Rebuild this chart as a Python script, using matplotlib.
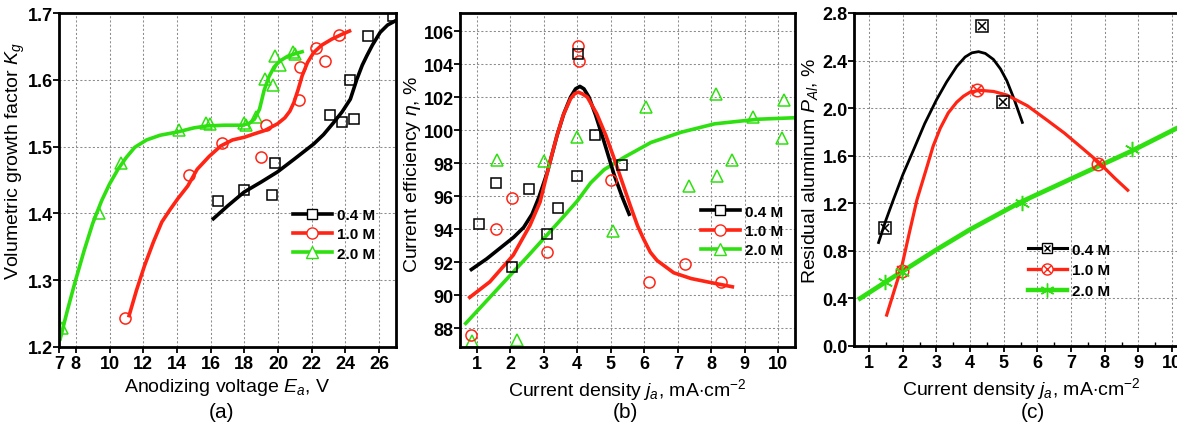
import matplotlib
matplotlib.use("Agg")
import matplotlib.pyplot as plt
from matplotlib.lines import Line2D
from matplotlib.ticker import MultipleLocator, FormatStrFormatter

plt.rcParams['font.family'] = ['Liberation Sans', 'DejaVu Sans']
plt.rcParams['mathtext.fontset'] = 'custom'
plt.rcParams['mathtext.rm'] = 'Liberation Sans'
plt.rcParams['mathtext.it'] = 'Liberation Sans:italic'
plt.rcParams['mathtext.bf'] = 'Liberation Sans:bold'

BLACK = '#000000'
RED = '#ff2414'
GREEN = '#2ee010'

# ---------- panel (a): growth factor vs voltage ----------
a_green_x = [7.2, 9.37, 10.67, 14.15, 15.73, 15.96, 17.99, 18.1, 18.72, 19.23, 19.7, 19.82, 20.11, 20.9, 21.0]
a_green_y = [1.229, 1.40, 1.476, 1.525, 1.536, 1.534, 1.535, 1.532, 1.544, 1.601, 1.592, 1.636, 1.622, 1.641, 1.639]
a_red_x = [10.94, 14.74, 16.65, 19.01, 19.31, 21.27, 21.33, 22.28, 22.81, 23.6]
a_red_y = [1.244, 1.457, 1.505, 1.485, 1.532, 1.570, 1.619, 1.647, 1.628, 1.667]
a_black_x = [16.45, 17.95, 19.62, 19.82, 23.1, 23.79, 24.48, 24.29, 25.33, 26.84]
a_black_y = [1.419, 1.435, 1.428, 1.475, 1.547, 1.537, 1.542, 1.599, 1.666, 1.696]

# fitted curves
a_green_fit_x = [7.07, 7.5, 7.95, 8.5, 9.0, 9.53, 10.0, 10.5, 11.0, 11.5, 12.2, 13.0, 14.05, 15.0, 15.8, 16.8,
                 17.9, 18.3, 18.6, 18.9, 19.17, 19.45, 19.76, 20.1, 20.55, 21.0, 21.43]
a_green_fit_y = [1.212, 1.255, 1.297, 1.345, 1.385, 1.419, 1.444, 1.466, 1.484, 1.499, 1.510, 1.517, 1.522,
                 1.528, 1.531, 1.532, 1.532, 1.535, 1.541, 1.556, 1.584, 1.604, 1.619, 1.628, 1.635, 1.639, 1.642]
a_red_fit_x = [11.16, 11.6, 12.08, 12.6, 13.1, 13.6, 14.05, 14.64, 15.2, 15.9, 16.6, 17.3, 18.0, 18.58, 19.2,
               19.96, 20.4, 20.7, 20.94, 21.2, 21.43, 21.75, 22.12, 22.6, 23.2, 23.7, 24.24]
a_red_fit_y = [1.247, 1.285, 1.322, 1.357, 1.387, 1.406, 1.422, 1.441, 1.466, 1.485, 1.501, 1.510, 1.514,
               1.519, 1.524, 1.534, 1.543, 1.553, 1.566, 1.586, 1.606, 1.626, 1.641, 1.652, 1.661, 1.667, 1.673]
a_black_fit_x = [16.16, 17.0, 17.99, 19.0, 19.96, 21.0, 22.12, 22.7, 23.3, 23.8, 24.29, 24.68, 25.0, 25.27,
                 25.6, 26.06, 26.5, 26.94]
a_black_fit_y = [1.392, 1.411, 1.432, 1.447, 1.462, 1.482, 1.504, 1.518, 1.536, 1.552, 1.571, 1.601, 1.622,
                 1.636, 1.652, 1.671, 1.682, 1.688]

# ---------- panel (b): current efficiency ----------
b_black_x = [1.06, 1.56, 2.06, 2.57, 3.1, 3.43, 3.99, 4.03, 4.53, 5.35]
b_black_y = [94.3, 96.8, 91.7, 96.4, 93.7, 95.3, 97.2, 104.6, 99.7, 97.9]
b_red_x = [0.84, 1.56, 2.04, 3.09, 4.03, 4.05, 5.0, 6.15, 7.23, 8.28]
b_red_y = [87.6, 94.0, 95.9, 92.6, 105.1, 104.2, 97.0, 90.8, 91.9, 90.8]
b_green_x = [0.87, 1.59, 2.19, 3.0, 4.0, 5.08, 6.06, 7.33, 8.13, 8.16, 8.63, 9.25, 10.12, 10.17]
b_green_y = [87.2, 98.2, 87.3, 98.1, 99.6, 93.9, 101.4, 96.6, 102.2, 97.2, 98.2, 100.8, 99.5, 101.8]

b_black_fit_x = [0.84, 1.3, 1.7, 2.1, 2.4, 2.65, 2.85, 3.1, 3.4, 3.6, 3.8, 3.95, 4.08, 4.2, 4.35, 4.55, 4.8,
                 5.1, 5.35, 5.55]
b_black_fit_y = [91.55, 92.2, 92.85, 93.5, 94.1, 94.9, 95.9, 97.4, 99.7, 101.0, 102.0, 102.5, 102.65, 102.5,
                 102.0, 100.9, 99.3, 97.3, 95.9, 94.9]
b_red_fit_x = [0.79, 1.39, 2.09, 2.59, 2.89, 3.19, 3.4, 3.58, 3.8, 3.92, 4.03, 4.15, 4.3, 4.58, 4.85, 5.08,
               5.35, 5.58, 5.8, 5.98, 6.18, 6.38, 6.88, 7.4, 7.88, 8.63]
b_red_fit_y = [89.86, 90.8, 92.42, 94.23, 95.64, 98.1, 99.7, 100.9, 101.9, 102.2, 102.3, 102.2, 102.0, 101.0,
               99.7, 98.4, 96.8, 95.44, 94.2, 93.4, 92.6, 92.1, 91.35, 91.0, 90.8, 90.5]
b_green_fit_x = [0.67, 1.5, 2.5, 3.5, 4.0, 4.4, 4.8, 5.4, 6.2, 7.1, 8.1, 9.4, 10.5]
b_green_fit_y = [88.28, 90.1, 92.3, 94.55, 95.7, 96.8, 97.6, 98.35, 99.25, 99.87, 100.38, 100.66, 100.75]

# ---------- panel (c): residual aluminum ----------
c_black_x = [1.47, 4.34, 4.97]
c_black_y = [0.99, 2.69, 2.05]
c_red_x = [1.97, 4.2, 7.8]
c_red_y = [0.63, 2.15, 1.53]
c_green_x = [1.47, 1.97, 5.53, 8.8]
c_green_y = [0.54, 0.62, 1.20, 1.66]

c_black_fit_x = [1.28, 1.5, 1.72, 2.0, 2.32, 2.65, 3.0, 3.3, 3.6, 3.85, 4.05, 4.25, 4.45, 4.69, 4.9, 5.09,
                 5.3, 5.55]
c_black_fit_y = [0.87, 1.06, 1.23, 1.44, 1.65, 1.87, 2.07, 2.22, 2.35, 2.43, 2.465, 2.475, 2.46, 2.41, 2.33,
                 2.23, 2.08, 1.88]
c_red_fit_x = [1.52, 1.75, 1.97, 2.2, 2.42, 2.71, 2.9, 3.11, 3.35, 3.6, 3.8, 4.0, 4.29, 4.7, 5.09, 5.7, 6.28,
               6.8, 7.26, 7.8, 8.3, 8.68]
c_red_fit_y = [0.26, 0.47, 0.67, 0.96, 1.23, 1.5, 1.68, 1.83, 1.96, 2.05, 2.1, 2.135, 2.15, 2.14, 2.11, 2.02,
               1.90, 1.79, 1.68, 1.55, 1.41, 1.31]
c_green_fit_x = [0.73, 1.5, 2.0, 3.0, 4.0, 5.5, 7.26, 8.8, 10.13, 10.6]
c_green_fit_y = [0.40, 0.54, 0.63, 0.81, 0.98, 1.21, 1.44, 1.64, 1.83, 1.89]

conc_labels = ['0.4 M', '1.0 M', '2.0 M']

fig = plt.figure(figsize=(11.77, 4.27), dpi=100)
W, H = 1177, 427
ax_a = fig.add_axes([59 / W, 79 / H, 337 / W, 334 / H])
ax_b = fig.add_axes([460 / W, 79 / H, 335 / W, 334 / H])
ax_c = fig.add_axes([854 / W, 80 / H, 335 / W, 333 / H])

label_size = 14


def style_axes(ax, ypad=0.5):
    for s in ax.spines.values():
        s.set_linewidth(2.0)
    ax.tick_params(which='major', direction='out', length=4, width=1.3, pad=2)
    ax.tick_params(axis='y', which='major', pad=ypad)
    ax.grid(True, color='0.55', linestyle=(0, (2, 2)), linewidth=0.75)
    ax.set_axisbelow(True)
    for lab in ax.get_xticklabels() + ax.get_yticklabels():
        lab.set_fontsize(13)
        lab.set_fontweight('bold')


def open_marker(ax, x, y, marker, color, ms=8, mew=1.1):
    ax.plot(x, y, linestyle='none', marker=marker, markersize=ms, markerfacecolor='none',
            markeredgecolor=color, markeredgewidth=mew)


def leg(ax, handles, anchor, fs=11, spacing=0.35):
    return ax.legend(handles, conc_labels, loc='lower left', bbox_to_anchor=anchor, frameon=False,
                     prop={'size': fs, 'weight': 'bold'}, handlelength=2.6, handletextpad=0.3,
                     labelspacing=spacing, borderaxespad=0)


# (a)
ax_a.plot(a_green_fit_x, a_green_fit_y, color=GREEN, lw=2.6)
ax_a.plot(a_red_fit_x, a_red_fit_y, color=RED, lw=2.6)
ax_a.plot(a_black_fit_x, a_black_fit_y, color=BLACK, lw=2.6)
open_marker(ax_a, a_green_x, a_green_y, '^', GREEN)
open_marker(ax_a, a_red_x, a_red_y, 'o', RED)
open_marker(ax_a, a_black_x, a_black_y, 's', BLACK, ms=7)
ax_a.set_xlim(7, 27)
ax_a.set_ylim(1.2, 1.7)
ax_a.set_xticks([7, 8, 10, 12, 14, 16, 18, 20, 22, 24, 26])
ax_a.set_yticks([1.2, 1.3, 1.4, 1.5, 1.6, 1.7])
ax_a.yaxis.set_major_formatter(FormatStrFormatter('%.1f'))
ax_a.set_xlabel('Anodizing voltage $\\mathit{E_a}$, V', fontsize=label_size, labelpad=3)
ax_a.set_ylabel('Volumetric growth factor $\\mathit{K_g}$', fontsize=label_size, va='center')
ax_a.yaxis.set_label_coords(-0.128, 0.56)
style_axes(ax_a, ypad=0)
h_a = [Line2D([], [], color=BLACK, lw=2.6, marker='s', ms=7, mfc='white', mec=BLACK),
       Line2D([], [], color=RED, lw=2.6, marker='o', ms=8, mfc='white', mec=RED),
       Line2D([], [], color=GREEN, lw=2.6, marker='^', ms=8, mfc='white', mec=GREEN)]
leg(ax_a, h_a, (0.675, 0.24))

# (b)
ax_b.plot(b_green_fit_x, b_green_fit_y, color=GREEN, lw=2.6)
ax_b.plot(b_black_fit_x, b_black_fit_y, color=BLACK, lw=2.6)
ax_b.plot(b_red_fit_x, b_red_fit_y, color=RED, lw=2.6)
open_marker(ax_b, b_green_x, b_green_y, '^', GREEN)
open_marker(ax_b, b_red_x, b_red_y, 'o', RED)
open_marker(ax_b, b_black_x, b_black_y, 's', BLACK, ms=7)
ax_b.set_xlim(0.5, 10.5)
ax_b.set_ylim(86.85, 107.1)
ax_b.set_xticks(range(1, 11))
ax_b.set_yticks(range(88, 107, 2))
ax_b.set_xlabel('Current density $\\mathit{j_a}$, mA$\\cdot$cm$^{-2}$', fontsize=label_size, labelpad=3)
ax_b.set_ylabel('Current efficiency $\\mathit{\\eta}$, %', fontsize=label_size, va='center')
ax_b.yaxis.set_label_coords(-0.143, 0.52)
style_axes(ax_b)
h_b = [Line2D([], [], color=BLACK, lw=2.6, marker='s', ms=7, mfc='white', mec=BLACK),
       Line2D([], [], color=RED, lw=2.6, marker='o', ms=8, mfc='white', mec=RED),
       Line2D([], [], color=GREEN, lw=2.6, marker='^', ms=8, mfc='white', mec=GREEN)]
leg(ax_b, h_b, (0.7, 0.25))

# (c)
ax_c.plot(c_green_fit_x, c_green_fit_y, color=GREEN, lw=3.4)
ax_c.plot(c_black_fit_x, c_black_fit_y, color=BLACK, lw=2.0)
ax_c.plot(c_red_fit_x, c_red_fit_y, color=RED, lw=2.3)
open_marker(ax_c, c_black_x, c_black_y, 's', BLACK, ms=8)
open_marker(ax_c, c_black_x, c_black_y, 'x', BLACK, ms=6)
open_marker(ax_c, c_red_x, c_red_y, 'o', RED, ms=9)
open_marker(ax_c, c_red_x, c_red_y, 'x', RED, ms=7)
open_marker(ax_c, c_green_x, c_green_y, (6, 2, 0), GREEN, ms=11)
ax_c.set_xlim(0.55, 10.5)
ax_c.set_ylim(0, 2.8)
ax_c.set_xticks(range(1, 11))
ax_c.xaxis.set_minor_locator(MultipleLocator(0.5))
ax_c.set_yticks([0.0, 0.4, 0.8, 1.2, 1.6, 2.0, 2.4, 2.8])
ax_c.yaxis.set_major_formatter(FormatStrFormatter('%.1f'))
ax_c.tick_params(which='minor', direction='in', length=3, width=1)
ax_c.set_xlabel('Current density $\\mathit{j_a}$, mA$\\cdot$cm$^{-2}$', fontsize=label_size, labelpad=3)
ax_c.set_ylabel('Residual aluminum $\\mathit{P_{Al}}$, %', fontsize=label_size, va='center')
ax_c.yaxis.set_label_coords(-0.13, 0.53)
style_axes(ax_c)
h_c = [(Line2D([], [], color=BLACK, lw=2.2, marker='s', ms=7, mfc='white', mec=BLACK),
        Line2D([], [], color=BLACK, lw=0, marker='x', ms=5, mec=BLACK)),
       (Line2D([], [], color=RED, lw=2.4, marker='o', ms=8, mfc='white', mec=RED),
        Line2D([], [], color=RED, lw=0, marker='x', ms=6, mec=RED)),
       Line2D([], [], color=GREEN, lw=3.2, marker=(6, 2, 0), ms=10, mec=GREEN)]
leg(ax_c, h_c, (0.50, 0.125), spacing=0.45)

fig.text(222 / W, 1 - 413 / H, '(a)', ha='center', va='center', fontsize=15)
fig.text(625 / W, 1 - 413 / H, '(b)', ha='center', va='center', fontsize=15)
fig.text(1033 / W, 1 - 413 / H, '(c)', ha='center', va='center', fontsize=15)

fig.savefig('out.png', dpi=100)
